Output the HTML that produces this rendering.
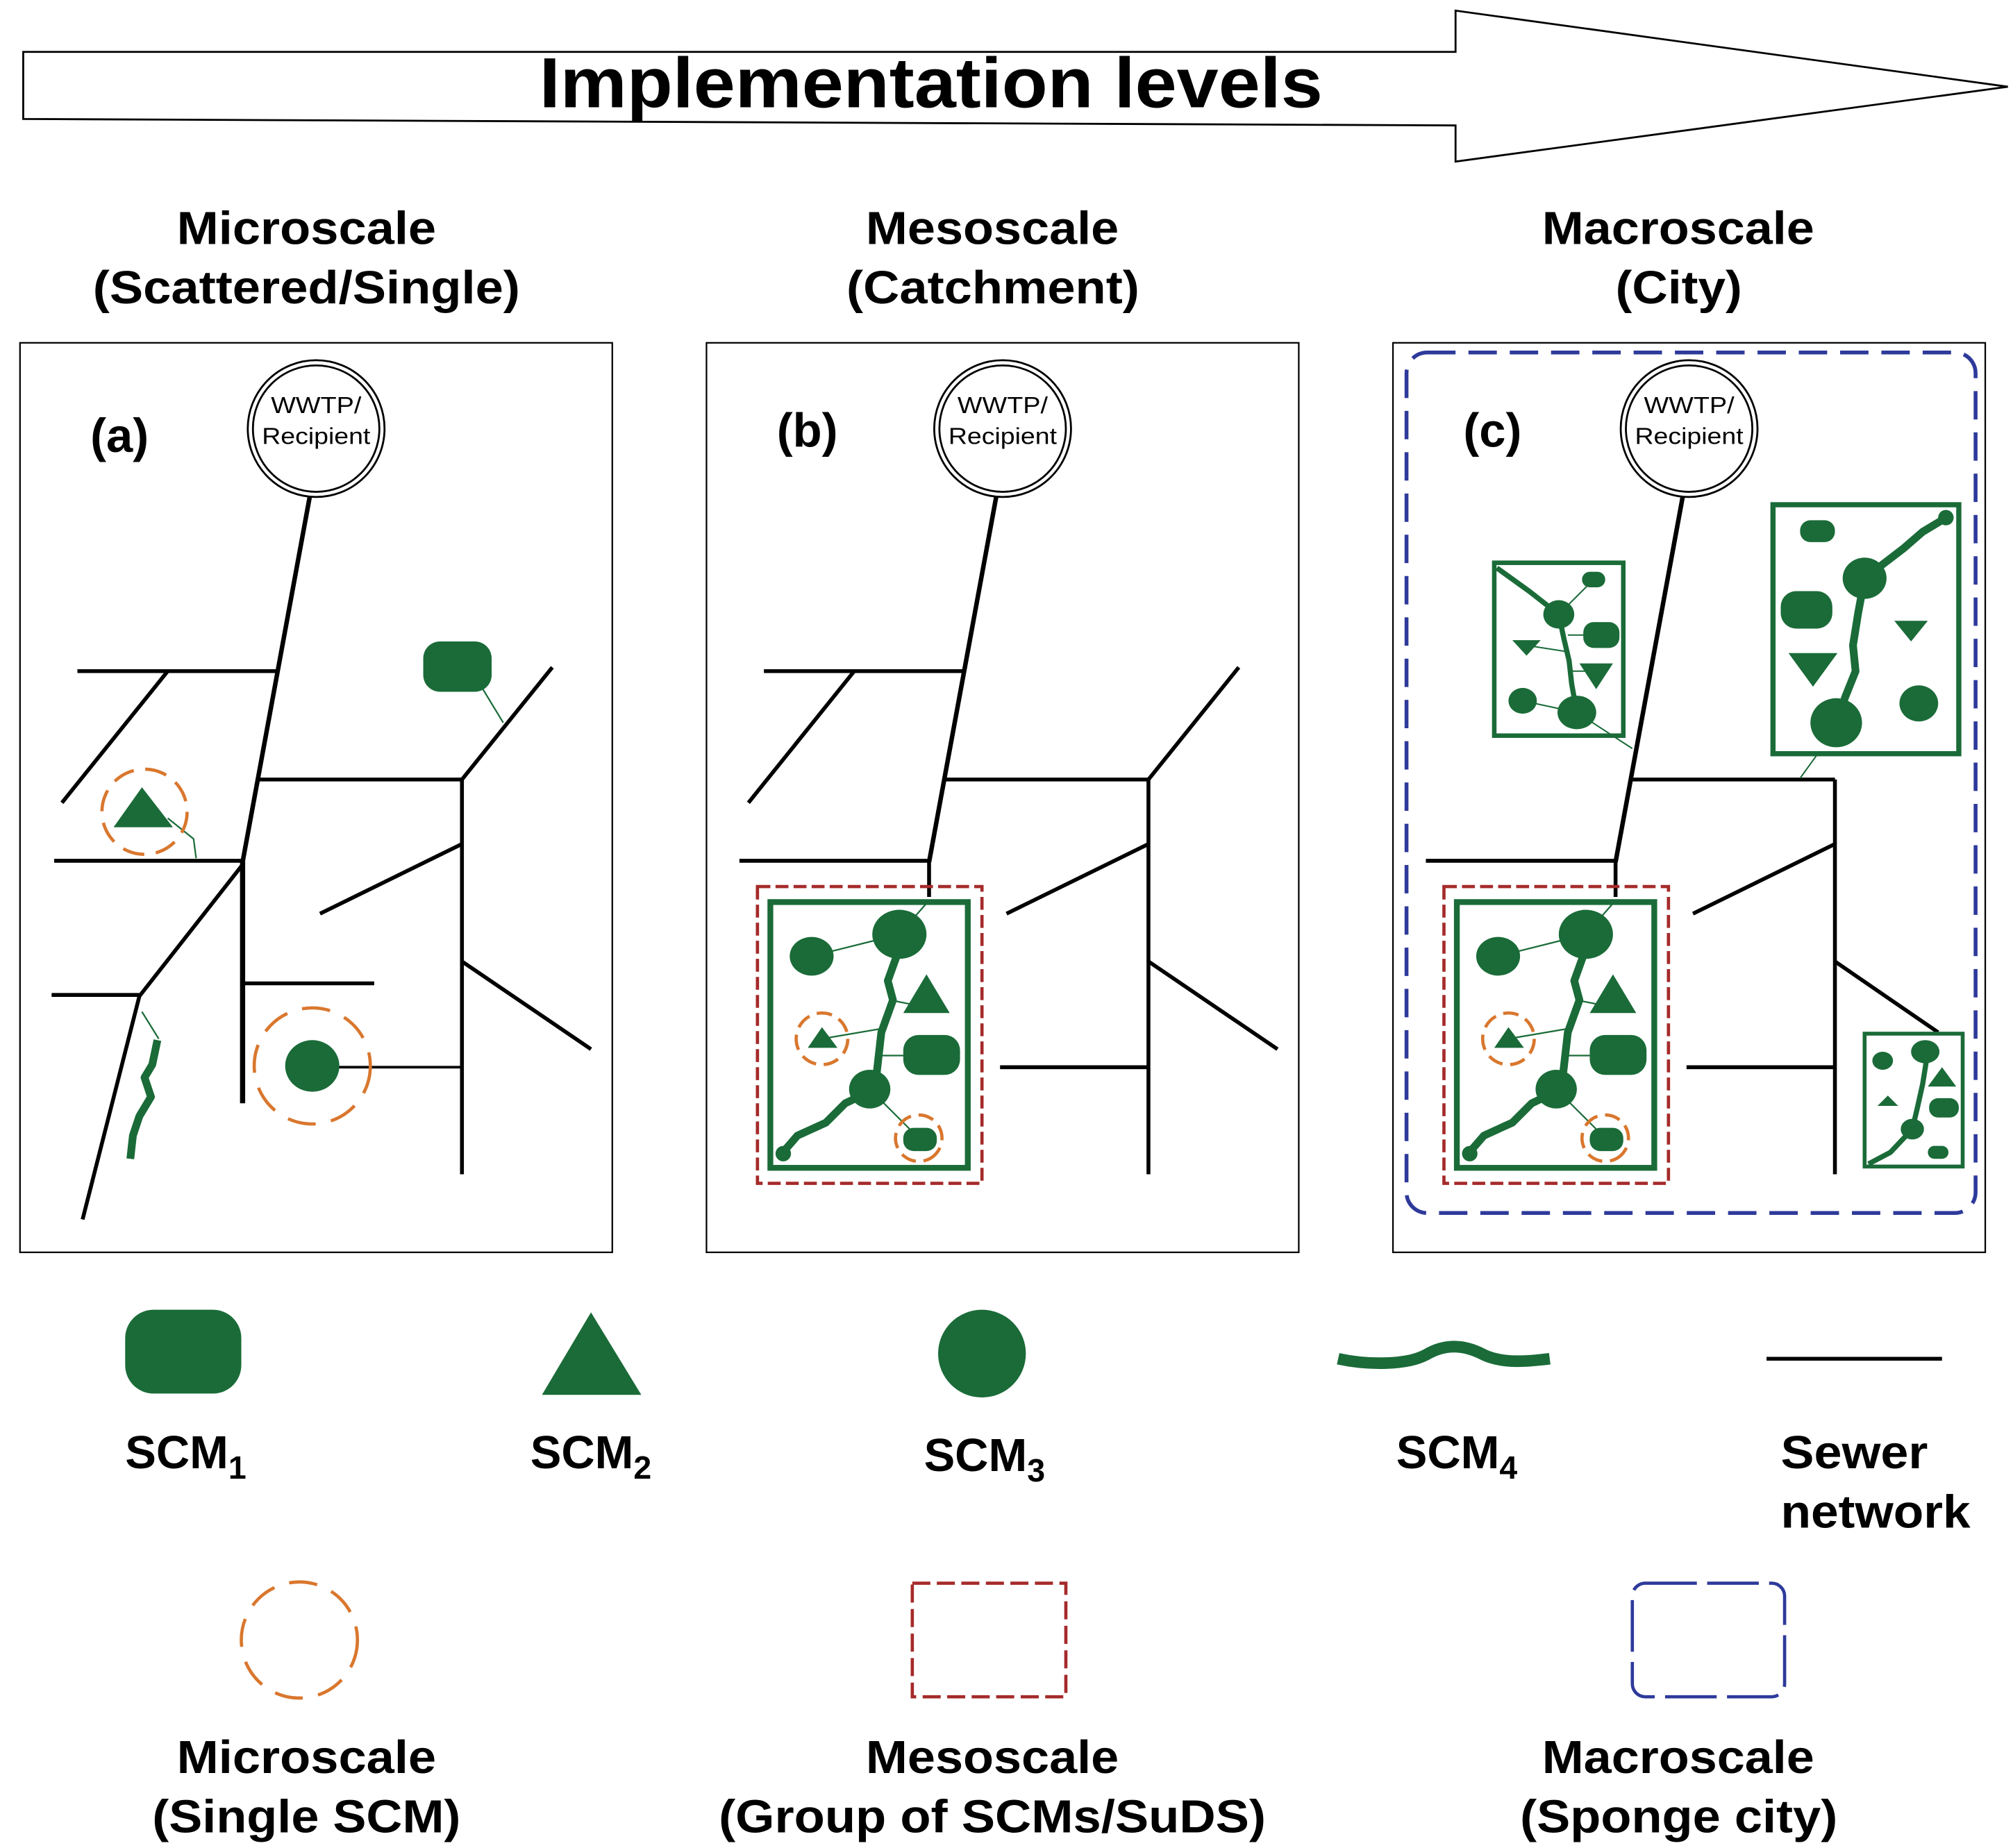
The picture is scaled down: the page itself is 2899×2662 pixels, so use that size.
<!DOCTYPE html>
<html><head><meta charset="utf-8"><style>
html,body{margin:0;padding:0;background:#fff;}
svg{display:block;}
text{font-family:"Liberation Sans",Arial,sans-serif;font-weight:bold;fill:#000;}
</style></head><body>
<svg width="2899" height="2662" viewBox="0 0 1560 1432" xmlns="http://www.w3.org/2000/svg">
<defs>
<g id="wwtp">
<circle cx="0" cy="0" r="53" fill="#fff" stroke="#000" stroke-width="1.5"/>
<circle cx="0" cy="0" r="49" fill="none" stroke="#000" stroke-width="1.5"/>
<text x="0" y="-12" font-size="18" text-anchor="middle" style="font-weight:normal" textLength="70" lengthAdjust="spacingAndGlyphs">WWTP/</text>
<text x="0" y="12" font-size="18" text-anchor="middle" style="font-weight:normal" textLength="84" lengthAdjust="spacingAndGlyphs">Recipient</text>
</g>
<g id="catch">
<rect x="597" y="699" width="153" height="206" fill="#fff" stroke="#1a6b38" stroke-width="4.5"/>
<g stroke="#1a6b38" stroke-width="1.2" fill="none">
<line x1="629" y1="741" x2="697" y2="724"/><line x1="637" y1="805" x2="684" y2="797"/>
<line x1="690" y1="775" x2="715" y2="780"/><line x1="680" y1="818" x2="720" y2="818"/>
<line x1="674" y1="844" x2="710" y2="880"/><line x1="697" y1="724" x2="718" y2="700"/>
</g>
<path d="M697,735 L688,760 L692,775 L683,800 L678,844 L655,855 L640,870 L618,880 L605,895" fill="none" stroke="#1a6b38" stroke-width="6" stroke-linejoin="round"/>
<g fill="#1a6b38">
<ellipse cx="697" cy="724" rx="21" ry="19"/><ellipse cx="629" cy="741" rx="17" ry="15"/>
<ellipse cx="674" cy="844" rx="16" ry="15"/><circle cx="607" cy="894" r="6"/>
<polygon points="700,785 718,755 736,785"/><polygon points="626,812 637,796 649,812"/>
<rect x="700" y="802" width="44" height="31" rx="12"/><rect x="700" y="874" width="26" height="18" rx="8"/>
</g>
<circle cx="637" cy="805" r="20" fill="none" stroke="#d9772e" stroke-width="2.5" stroke-dasharray="12,6"/>
<circle cx="712" cy="882" r="18" fill="none" stroke="#d9772e" stroke-width="2.5" stroke-dasharray="12,6" transform="rotate(40 712 882)"/>
</g>
</defs>

<!-- header arrow -->
<polygon points="18,40 1128,40 1128,8 1556,67 1128,125 1128,97 18,92" fill="#fff" stroke="#000" stroke-width="1.5"/>
<text x="418" y="83" font-size="55" textLength="607" lengthAdjust="spacingAndGlyphs">Implementation levels</text>

<g font-size="36">
<text x="137" y="189" textLength="201" lengthAdjust="spacingAndGlyphs">Microscale</text>
<text x="72" y="235" textLength="331" lengthAdjust="spacingAndGlyphs">(Scattered/Single)</text>
<text x="671" y="189" textLength="196" lengthAdjust="spacingAndGlyphs">Mesoscale</text>
<text x="656" y="235" textLength="227" lengthAdjust="spacingAndGlyphs">(Catchment)</text>
<text x="1195" y="189" textLength="211" lengthAdjust="spacingAndGlyphs">Macroscale</text>
<text x="1252" y="235" textLength="98" lengthAdjust="spacingAndGlyphs">(City)</text>
</g>

<!-- panels -->
<rect x="15.5" y="265.5" width="459" height="705" fill="#fff" stroke="#000" stroke-width="1.2"/>
<rect x="547.5" y="265.5" width="459" height="705" fill="#fff" stroke="#000" stroke-width="1.2"/>
<rect x="1079.5" y="265.5" width="459" height="705" fill="#fff" stroke="#000" stroke-width="1.2"/>

<g font-size="37">
<text x="70" y="350">(a)</text><text x="602" y="346">(b)</text><text x="1134" y="346">(c)</text>
</g>

<!-- panel a -->
<g stroke="#000" stroke-width="3" fill="none">
<line x1="240" y1="385" x2="188" y2="668" stroke-width="3.5"/>
<line x1="188" y1="666" x2="188" y2="855" stroke-width="4"/>
<line x1="60" y1="520" x2="215" y2="520"/>
<line x1="130" y1="520" x2="48" y2="622"/>
<line x1="200" y1="604" x2="358" y2="604"/>
<line x1="358" y1="604" x2="358" y2="910"/>
<line x1="358" y1="604" x2="428" y2="517"/>
<line x1="248" y1="708" x2="358" y2="654"/>
<line x1="358" y1="745" x2="458" y2="813"/>
<line x1="250" y1="827" x2="358" y2="827" stroke-width="2"/>
<line x1="42" y1="667" x2="188" y2="667"/>
<line x1="188" y1="670" x2="108" y2="772"/>
<line x1="40" y1="771" x2="108" y2="771"/>
<line x1="108" y1="772" x2="64" y2="945"/>
<line x1="188" y1="762" x2="290" y2="762"/>
</g>
<g stroke="#1a6b38" stroke-width="1.2" fill="none">
<line x1="370" y1="527" x2="390" y2="560"/>
<polyline points="130,634 150,650 152,665"/>
<polyline points="110,784 123,805"/>
</g>
<g fill="#1a6b38">
<rect x="328" y="497" width="53" height="39" rx="13"/>
<polygon points="88,641 110,610 134,641"/>
<ellipse cx="242" cy="826" rx="21" ry="20"/>
</g>
<path d="M122,806 L118,825 L112,835 L117,850 L108,865 L103,880 L101,898" fill="none" stroke="#1a6b38" stroke-width="6" stroke-linejoin="round"/>
<circle cx="112" cy="629" r="33" fill="none" stroke="#d9772e" stroke-width="2.5" stroke-dasharray="17,9"/>
<circle cx="242" cy="826" r="45" fill="none" stroke="#d9772e" stroke-width="2.5" stroke-dasharray="22,12"/>
<use href="#wwtp" x="245" y="332"/>

<!-- panel b -->
<g stroke="#000" stroke-width="3" fill="none">
<line x1="772" y1="385" x2="720" y2="668" stroke-width="3.5"/>
<line x1="720" y1="666" x2="720" y2="695"/>
<line x1="592" y1="520" x2="747" y2="520"/>
<line x1="662" y1="520" x2="580" y2="622"/>
<line x1="732" y1="604" x2="890" y2="604"/>
<line x1="890" y1="604" x2="890" y2="910"/>
<line x1="890" y1="604" x2="960" y2="517"/>
<line x1="780" y1="708" x2="890" y2="654"/>
<line x1="890" y1="745" x2="990" y2="813"/>
<line x1="775" y1="827" x2="890" y2="827"/>
<line x1="573" y1="667" x2="720" y2="667"/>
</g>
<rect x="587" y="687" width="174" height="230" fill="none" stroke="#a52a2a" stroke-width="2.5" stroke-dasharray="10,4"/>
<use href="#catch"/>
<use href="#wwtp" x="777" y="332"/>

<!-- panel c -->
<rect x="1090" y="273" width="441" height="667" rx="16" fill="none" stroke="#2e3a9a" stroke-width="3" stroke-dasharray="22,10"/>
<g stroke="#000" stroke-width="3" fill="none">
<line x1="1304" y1="385" x2="1252" y2="668" stroke-width="3.5"/>
<line x1="1252" y1="666" x2="1252" y2="695"/>
<line x1="1264" y1="604" x2="1422" y2="604"/>
<line x1="1422" y1="604" x2="1422" y2="910"/>
<line x1="1312" y1="708" x2="1422" y2="654"/>
<line x1="1422" y1="745" x2="1502" y2="800"/>
<line x1="1307" y1="827" x2="1422" y2="827"/>
<line x1="1105" y1="667" x2="1252" y2="667"/>
</g>
<rect x="1119" y="687" width="174" height="230" fill="none" stroke="#a52a2a" stroke-width="2.5" stroke-dasharray="10,4"/>
<use href="#catch" x="532"/>
<use href="#wwtp" x="1309" y="332"/>

<!-- top-left box -->
<rect x="1158" y="436" width="100" height="134" fill="#fff" stroke="#1a6b38" stroke-width="3.5"/>
<g stroke="#1a6b38" stroke-width="1.1" fill="none">
<line x1="1208" y1="476" x2="1235" y2="449"/><line x1="1215" y1="492" x2="1241" y2="492"/>
<line x1="1183" y1="500" x2="1215" y2="505"/><line x1="1215" y1="520" x2="1237" y2="520"/>
<line x1="1180" y1="543" x2="1222" y2="552"/><line x1="1222" y1="552" x2="1265" y2="580"/>
<line x1="1395" y1="603" x2="1408" y2="585"/><line x1="1409" y1="411" x2="1445" y2="448"/>
<line x1="1400" y1="472" x2="1438" y2="475"/><line x1="1438" y1="500" x2="1481" y2="490"/>
<line x1="1405" y1="515" x2="1430" y2="530"/><line x1="1423" y1="560" x2="1487" y2="545"/>
<line x1="1459" y1="822" x2="1492" y2="815"/><line x1="1463" y1="853" x2="1488" y2="848"/>
<line x1="1486" y1="858" x2="1506" y2="858"/><line x1="1482" y1="875" x2="1502" y2="893"/>
</g>
<path d="M1160,440 L1185,458 L1208,476 L1212,495 L1216,512 L1218,530 L1222,552" fill="none" stroke="#1a6b38" stroke-width="4" stroke-linejoin="round"/>
<g fill="#1a6b38">
<ellipse cx="1208" cy="476" rx="12" ry="11"/><ellipse cx="1222" cy="552" rx="15" ry="13"/>
<ellipse cx="1180" cy="543" rx="11" ry="10"/>
<rect x="1226" y="443" width="18" height="12" rx="6"/><rect x="1227" y="482" width="28" height="20" rx="8"/>
<polygon points="1172,496 1194,496 1183,508"/><polygon points="1224,514 1250,514 1237,534"/>
</g>

<!-- top-right box -->
<rect x="1374" y="391" width="144" height="193" fill="#fff" stroke="#1a6b38" stroke-width="4"/>
<path d="M1510,400 L1490,412 L1475,425 L1445,448 L1440,475 L1436,500 L1438,520 L1430,540 L1423,560" fill="none" stroke="#1a6b38" stroke-width="6" stroke-linejoin="round"/>
<g fill="#1a6b38">
<ellipse cx="1445" cy="448" rx="17" ry="16"/><ellipse cx="1423" cy="560" rx="20" ry="19"/>
<ellipse cx="1487" cy="545" rx="15" ry="14"/><circle cx="1508" cy="401" r="6"/>
<rect x="1395" y="403" width="27" height="17" rx="8"/><rect x="1380" y="458" width="40" height="29" rx="12"/>
<polygon points="1386,506 1424,506 1405,532"/><polygon points="1468,481 1494,481 1481,497"/>
</g>

<!-- bottom-right box -->
<rect x="1445" y="801" width="76" height="103" fill="#fff" stroke="#1a6b38" stroke-width="3"/>
<path d="M1448,902 L1465,893 L1482,875 L1486,858 L1490,840 L1494,815" fill="none" stroke="#1a6b38" stroke-width="4" stroke-linejoin="round"/>
<g fill="#1a6b38">
<ellipse cx="1492" cy="815" rx="11" ry="9"/><ellipse cx="1459" cy="822" rx="8" ry="7"/>
<ellipse cx="1482" cy="875" rx="9" ry="8"/>
<polygon points="1494,842 1505,827 1516,842"/><polygon points="1455,857 1463,849 1471,857"/>
<rect x="1495" y="851" width="23" height="15" rx="7"/><rect x="1494" y="888" width="16" height="10" rx="5"/>
</g>

<!-- legend row 1 -->
<g fill="#1a6b38">
<rect x="97" y="1015" width="90" height="65" rx="22"/>
<polygon points="420,1081 458,1017 497,1081"/>
<circle cx="761" cy="1049" r="34"/>
</g>
<path d="M1037,1053 C1060,1058 1090,1058 1105,1050 C1120,1041 1135,1042 1150,1050 C1165,1057 1185,1055 1201,1053" fill="none" stroke="#1a6b38" stroke-width="9"/>
<line x1="1369" y1="1053" x2="1505" y2="1053" stroke="#000" stroke-width="3"/>
<g font-size="36">
<text x="97" y="1138">SCM<tspan font-size="25" dy="8">1</tspan></text>
<text x="411" y="1138">SCM<tspan font-size="25" dy="8">2</tspan></text>
<text x="716" y="1140">SCM<tspan font-size="25" dy="8">3</tspan></text>
<text x="1082" y="1138">SCM<tspan font-size="25" dy="8">4</tspan></text>
<text x="1380" y="1138" textLength="114" lengthAdjust="spacingAndGlyphs">Sewer</text>
<text x="1380" y="1184" textLength="147" lengthAdjust="spacingAndGlyphs">network</text>
</g>

<!-- legend row 2 -->
<circle cx="232" cy="1271" r="45" fill="none" stroke="#d9772e" stroke-width="2.5" stroke-dasharray="22,12"/>
<rect x="707" y="1227" width="119" height="88" fill="none" stroke="#a52a2a" stroke-width="2.5" stroke-dasharray="14,5"/>
<rect x="1265" y="1227" width="118" height="88" rx="10" fill="none" stroke="#2e3a9a" stroke-width="2.5" stroke-dasharray="40,8"/>
<g font-size="36">
<text x="137" y="1374" textLength="201" lengthAdjust="spacingAndGlyphs">Microscale</text>
<text x="118" y="1420" textLength="239" lengthAdjust="spacingAndGlyphs">(Single SCM)</text>
<text x="671" y="1374" textLength="196" lengthAdjust="spacingAndGlyphs">Mesoscale</text>
<text x="557" y="1420" textLength="424" lengthAdjust="spacingAndGlyphs">(Group of SCMs/SuDS)</text>
<text x="1195" y="1374" textLength="211" lengthAdjust="spacingAndGlyphs">Macroscale</text>
<text x="1178" y="1420" textLength="246" lengthAdjust="spacingAndGlyphs">(Sponge city)</text>
</g>
</svg>
</body></html>
